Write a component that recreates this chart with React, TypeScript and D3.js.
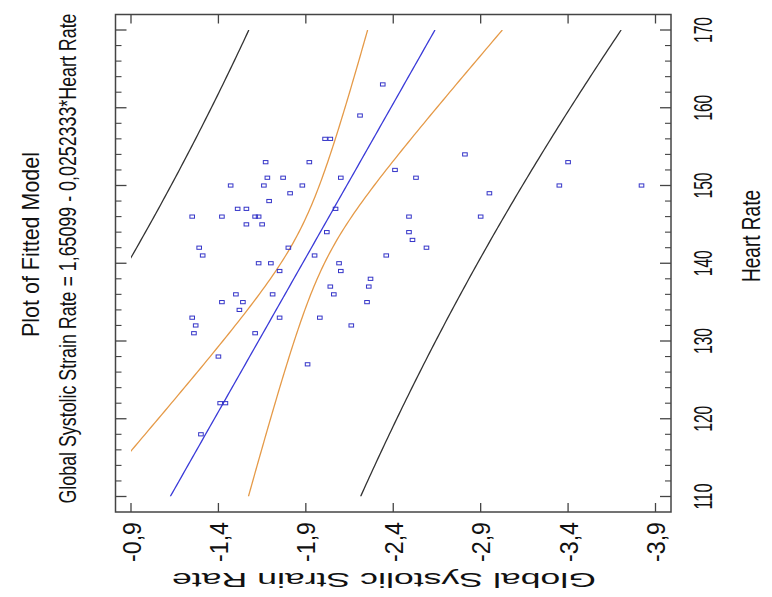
import React from 'react';
import * as d3 from 'd3';

// ---- Data ----
const heartRate = [
  163, 159, 156, 156, 154, 153, 153, 153, 152, 151, 151, 151, 151,
  150, 150, 150, 150, 150, 149, 149, 148, 147, 147, 147,
  146, 146, 146, 146, 146, 146, 145, 145, 144, 144, 143,
  142, 142, 142, 141, 141, 141, 140, 140, 140, 139, 139, 138,
  137, 137, 136, 136, 136, 135, 135, 135, 134, 133, 133, 133,
  132, 132, 131, 131, 128, 127, 122, 122, 118,
];
const strainRate = [
  -2.34, -2.21, -2.01, -2.04, -2.81, -1.67, -1.92, -3.40, -2.41, -1.68, -1.77, -2.10, -2.53,
  -1.47, -1.66, -1.88, -3.35, -3.82, -1.81, -2.95, -1.69, -1.51, -1.56, -2.07,
  -1.25, -1.42, -1.61, -1.63, -2.49, -2.90, -1.56, -1.65, -2.02, -2.49, -2.51,
  -1.29, -1.80, -2.59, -1.31, -1.95, -2.36, -1.63, -1.70, -2.09, -1.75, -2.10, -2.27,
  -2.04, -2.26, -1.50, -1.71, -2.06, -1.42, -1.54, -2.25, -1.52, -1.25, -1.75, -1.98,
  -1.27, -2.16, -1.26, -1.61, -1.40, -1.91, -1.41, -1.44, -1.30,
];

// model from the subtitle
const intercept = 1.65099;
const slope = -0.0252333;
const tCrit = 1.997; // t(0.975, n-2)

const hrTicks = [110, 120, 130, 140, 150, 160, 170];
const hrTickLabels = ['110', '120', '130', '140', '150', '160', '170'];
const strainTicks = [-0.9, -1.4, -1.9, -2.4, -2.9, -3.4, -3.9];
const strainTickLabels = ['-0,9', '-1,4', '-1,9', '-2,4', '-2,9', '-3,4', '-3,9'];

const titleText = 'Plot of Fitted Model';
const subtitleText = 'Global Systolic Strain Rate = 1,65099 - 0,0252333*Heart Rate';
const hrLabel = 'Heart Rate';
const strainLabel = 'Global Systolic Strain Rate';

const W = 772;
const H = 597;
const FONT = '"Liberation Sans Narrow", "Arial Narrow", "Liberation Sans", Arial, sans-serif';
const FONT_WIDE = '"Liberation Sans", Arial, sans-serif';

export default function App() {
  // rotated chart: Heart Rate runs bottom->top, strain runs left->right (-0.9 .. -3.9)
  const x = d3.scaleLinear().domain([-0.9, -3.9]).range([131, 655.5]);
  const y = d3.scaleLinear().domain([110, 170]).range([496.5, 30]);
  const pad = 15.5;
  const fx0 = x.range()[0] - pad, fx1 = x.range()[1] + pad;
  const fy0 = y.range()[1] - pad, fy1 = y.range()[0] + pad;

  const n = heartRate.length;
  const mean = d3.mean(heartRate) as number;
  const sxx = d3.sum(heartRate, (h) => (h - mean) ** 2);
  const sse = d3.sum(heartRate, (h, i) => (strainRate[i] - (intercept + slope * h)) ** 2);
  const mse = sse / (n - 2);

  const hs = d3.range(110, 170.001, 0.5);
  const fit = (h: number) => intercept + slope * h;
  const ci = (h: number) => tCrit * Math.sqrt(mse * (1 / n + (h - mean) ** 2 / sxx));
  const pi = (h: number) => tCrit * Math.sqrt(mse * (1 + 1 / n + (h - mean) ** 2 / sxx));

  const mk = (f: (h: number) => number) =>
    d3.line<number>().x((h) => x(f(h))).y((h) => y(h))(hs) as string;

  const hrMinor = d3.range(110, 170.001, 2).filter((v) => !hrTicks.includes(v));

  const frameColor = '#444';

  return (
    <svg width={W} height={H} style={{ position: 'absolute', left: 0, top: 0, background: '#fff' }}>
      <defs>
        <clipPath id="plotclip">
          <rect x={x.range()[0]} y={y.range()[1]} width={x.range()[1] - x.range()[0]} height={y.range()[0] - y.range()[1]} />
        </clipPath>
      </defs>
      <rect x={0} y={0} width={W} height={H} fill="#fff" />

      {/* frame */}
      <rect x={fx0} y={fy0} width={fx1 - fx0} height={fy1 - fy0} fill="none" stroke={frameColor} strokeWidth={1.5} />

      {/* strain ticks (bottom and top, inward) */}
      {strainTicks.map((v) => (
        <g key={'st' + v}>
          <line x1={x(v)} x2={x(v)} y1={fy1} y2={fy1 - 9} stroke={frameColor} strokeWidth={1.3} />
          <line x1={x(v)} x2={x(v)} y1={fy0} y2={fy0 + 9} stroke={frameColor} strokeWidth={1.3} />
        </g>
      ))}
      {/* heart-rate ticks (left and right, inward) */}
      {hrTicks.map((v) => (
        <g key={'ht' + v}>
          <line x1={fx0} x2={fx0 + 11} y1={y(v)} y2={y(v)} stroke={frameColor} strokeWidth={1.3} />
          <line x1={fx1} x2={fx1 - 11} y1={y(v)} y2={y(v)} stroke={frameColor} strokeWidth={1.3} />
        </g>
      ))}
      {hrMinor.map((v) => (
        <g key={'hm' + v}>
          <line x1={fx0} x2={fx0 + 6} y1={y(v)} y2={y(v)} stroke={frameColor} strokeWidth={1.1} />
          <line x1={fx1} x2={fx1 - 6} y1={y(v)} y2={y(v)} stroke={frameColor} strokeWidth={1.1} />
        </g>
      ))}

      {/* bands and fit */}
      <g clipPath="url(#plotclip)" fill="none">
        <path d={mk((h) => fit(h) + pi(h))} stroke="#333" strokeWidth={1.3} />
        <path d={mk((h) => fit(h) - pi(h))} stroke="#333" strokeWidth={1.3} />
        <path d={mk((h) => fit(h) + ci(h))} stroke="#e59a48" strokeWidth={1.3} />
        <path d={mk((h) => fit(h) - ci(h))} stroke="#e59a48" strokeWidth={1.3} />
        <path d={mk(fit)} stroke="#3b3bd8" strokeWidth={1.3} />
      </g>

      {/* points */}
      {heartRate.map((h, i) => (
        <rect key={'p' + i} x={x(strainRate[i]) - 2.3} y={y(h) - 1.6} width={4.6} height={3.2}
          fill="none" stroke="#3535c8" strokeWidth={1} />
      ))}

      {/* right tick labels */}
      {hrTicks.map((v, i) => (
        <text key={'hl' + v} transform={`translate(712,${y(v)}) rotate(-90)`} textAnchor="middle"
          fontFamily={FONT} fontSize={25} textLength={26} lengthAdjust="spacingAndGlyphs" fill="#111">
          {hrTickLabels[i]}
        </text>
      ))}
      {/* bottom tick labels */}
      {strainTicks.map((v, i) => (
        <text key={'sl' + v} transform={`translate(${x(v) + 9.5},542) rotate(-90)`} textAnchor="middle"
          fontFamily={FONT} fontSize={26} textLength={40} lengthAdjust="spacingAndGlyphs" fill="#111">
          {strainTickLabels[i]}
        </text>
      ))}

      {/* titles */}
      <text transform="translate(39,244.5) rotate(-90)" textAnchor="middle" fontFamily={FONT} fontSize={24.5}
        textLength={185} lengthAdjust="spacingAndGlyphs" fill="#111">{titleText}</text>
      <text transform="translate(76,258.5) rotate(-90)" textAnchor="middle" fontFamily={FONT} fontSize={24.5}
        textLength={490} lengthAdjust="spacingAndGlyphs" fill="#111">{subtitleText}</text>
      <text transform="translate(760,236) rotate(-90)" textAnchor="middle" fontFamily={FONT} fontSize={25}
        textLength={92} lengthAdjust="spacingAndGlyphs" fill="#111">{hrLabel}</text>
      <text transform="translate(384,573) rotate(180)" textAnchor="middle" fontFamily={FONT_WIDE} fontSize={21}
        textLength={424} lengthAdjust="spacingAndGlyphs" fill="#111">{strainLabel}</text>
    </svg>
  );
}
